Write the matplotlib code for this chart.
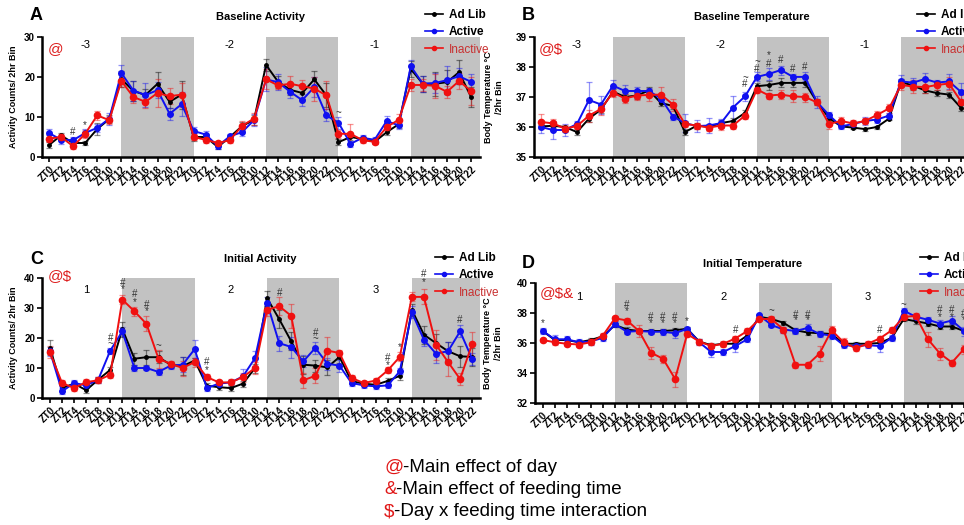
import matplotlib
matplotlib.use("Agg")
import matplotlib.pyplot as plt
from matplotlib.lines import Line2D
import numpy as np

plt.rcParams['font.family'] = ['Liberation Sans', 'DejaVu Sans']

zt_labels = ["ZT0", "ZT2", "ZT4", "ZT6", "ZT8", "ZT10",
             "ZT12", "ZT14", "ZT16", "ZT18", "ZT20", "ZT22"] * 3
idx = np.arange(36)

# ---- A: baseline activity ----
a_adlib = [3, 5.4, 3.5, 3.5, 7, 9.5, 19.5, 16.5, 15.5, 18.3, 13.8, 15.6,
           5, 5, 2.5, 5, 7.7, 9.3, 23, 18.8, 16.8, 16, 19.4, 15.4,
           3.7, 5, 4.5, 3.8, 6.2, 8.2, 22, 18.3, 18.3, 18.7, 21.2, 15]
a_active = [6, 4.3, 4.2, 6, 7.3, 9.6, 21, 16.6, 15.5, 16.7, 10.8, 13.2,
            6.5, 5.6, 2.7, 5.2, 6.2, 9.2, 19.4, 18.7, 16.3, 14.2, 17.5, 10.4,
            8.6, 3.3, 4.8, 4.3, 9, 7.9, 22.7, 18.3, 18.5, 19.2, 20.2, 18.8]
a_inactive = [4.6, 5, 2.7, 5.8, 10.4, 9.2, 19, 15, 13.8, 16, 15.2, 15.6,
              5, 4.3, 3.5, 4.2, 7.8, 9.6, 19.4, 17.9, 18.3, 17.7, 17.1, 15.4,
              5.8, 5.8, 4.2, 3.8, 7.5, 9.3, 18, 18, 17.8, 16.3, 19, 16.5]
a_adlib_err = [0.8, 0.7, 0.5, 0.5, 1.5, 1.0, 2.0, 2.5, 1.5, 3.0, 1.5, 3.5,
               1.0, 0.8, 0.5, 0.6, 1.0, 1.2, 1.5, 1.5, 1.2, 1.5, 2.0, 3.0,
               0.8, 0.8, 0.6, 0.6, 0.8, 1.0, 2.0, 2.0, 3.0, 3.0, 3.0, 2.5]
a_active_err = [1.0, 1.0, 0.8, 1.0, 1.0, 1.5, 2.0, 2.5, 3.0, 2.0, 1.5, 3.0,
                1.0, 1.0, 0.6, 0.6, 1.0, 1.5, 3.0, 2.0, 1.5, 1.5, 2.5, 1.5,
                1.5, 0.8, 0.8, 0.8, 1.2, 1.0, 1.5, 2.0, 2.5, 3.5, 2.0, 2.0]
a_inactive_err = [0.8, 0.8, 0.6, 1.0, 1.2, 1.0, 1.5, 1.5, 1.5, 3.5, 2.0, 3.0,
                  0.8, 0.8, 0.5, 0.6, 1.2, 1.5, 2.5, 1.0, 2.0, 1.5, 3.0, 3.5,
                  1.0, 2.5, 0.7, 0.6, 1.0, 1.5, 1.5, 1.5, 3.0, 1.5, 2.0, 3.5]

# ---- B: baseline temperature ----
b_adlib = [36.02, 36.04, 36.0, 35.83, 36.28, 36.58, 37.18, 37.0, 37.05, 37.22, 36.8, 36.7,
           35.83, 36.05, 36.0, 36.13, 36.2, 36.47, 37.36, 37.4, 37.47, 37.47, 37.47, 36.83,
           36.3, 36.02, 35.98, 35.93, 36.0, 36.28, 37.5, 37.38, 37.22, 37.13, 37.08, 36.64]
b_active = [36.0, 35.9, 35.9, 36.1, 36.9, 36.75, 37.38, 37.2, 37.2, 37.2, 36.95, 36.35,
            36.13, 36.03, 36.05, 36.13, 36.65, 37.02, 37.67, 37.77, 37.9, 37.67, 37.67, 36.83,
            36.4, 36.02, 36.1, 36.2, 36.25, 36.38, 37.52, 37.48, 37.6, 37.48, 37.52, 37.17]
b_inactive = [36.17, 36.12, 35.95, 36.03, 36.38, 36.6, 37.15, 36.95, 37.05, 37.07, 37.08, 36.75,
              36.1, 36.05, 35.98, 36.05, 36.05, 36.38, 37.25, 37.05, 37.08, 37.02, 37.0, 36.82,
              36.1, 36.2, 36.12, 36.2, 36.4, 36.62, 37.4, 37.35, 37.33, 37.4, 37.45, 36.85]
b_adlib_err = [0.05, 0.05, 0.05, 0.1, 0.1, 0.1, 0.1, 0.1, 0.1, 0.1, 0.1, 0.1,
               0.1, 0.1, 0.1, 0.1, 0.1, 0.1, 0.1, 0.15, 0.15, 0.15, 0.15, 0.1,
               0.1, 0.05, 0.05, 0.05, 0.05, 0.05, 0.1, 0.15, 0.1, 0.1, 0.1, 0.1]
b_active_err = [0.2, 0.3, 0.2, 0.1, 0.6, 0.3, 0.2, 0.2, 0.15, 0.1, 0.15, 0.1,
                0.3, 0.2, 0.25, 0.15, 0.4, 0.15, 0.15, 0.2, 0.15, 0.1, 0.15, 0.2,
                0.1, 0.1, 0.1, 0.15, 0.1, 0.1, 0.2, 0.15, 0.2, 0.1, 0.25, 0.3]
b_inactive_err = [0.25, 0.15, 0.1, 0.1, 0.2, 0.2, 0.15, 0.15, 0.15, 0.2, 0.25, 0.2,
                  0.1, 0.1, 0.1, 0.15, 0.1, 0.1, 0.1, 0.1, 0.15, 0.2, 0.15, 0.1,
                  0.15, 0.15, 0.1, 0.1, 0.15, 0.15, 0.15, 0.2, 0.2, 0.15, 0.2, 0.2]

# ---- C: initial activity ----
c_adlib = [16.7, 3.3, 4.8, 2.6, 6.1, 9.4, 23, 13.1, 13.6, 13.6, 11.1, 10.6,
           12.5, 4.1, 3.6, 3.3, 4.8, 10, 33.3, 26.3, 18.9, 11.1, 10.8, 10.2,
           13.7, 5.6, 4.8, 4.4, 5.7, 7.4, 29.4, 21.1, 18.3, 15.6, 13.9, 13.7]
c_active = [15.6, 2.2, 5, 4.2, 6.1, 15.8, 22.2, 10, 10, 8.7, 10.8, 11.1,
            16.3, 3.3, 4.8, 5.2, 7.2, 13.3, 31.7, 18.3, 17, 12.2, 16.7, 11.4,
            10.8, 5, 4.2, 3.9, 4.2, 8.9, 28.6, 19.4, 14.8, 15.6, 22.2, 13]
c_inactive = [15.2, 5, 3.3, 5.3, 5.9, 7.8, 32.8, 28.9, 24.7, 13.1, 11.4, 10,
              12, 7, 5.2, 5.2, 7, 10, 29.4, 30.6, 27.4, 5.9, 7.4, 15.8,
              15, 6.7, 5, 5.8, 9.2, 13.7, 33.7, 33.7, 17.8, 12, 6.3, 18]
c_adlib_err = [2.5, 1, 1, 0.8, 1, 1, 2.5, 2, 2.5, 2, 1, 3,
               1, 0.8, 0.8, 0.8, 1, 1.5, 2.5, 3, 3, 3, 2, 2.5,
               2, 1, 0.8, 0.8, 1, 1.5, 2, 3, 3, 3, 3.5, 3]
c_active_err = [1.5, 1, 1, 1, 1, 1, 1.5, 1, 0.8, 1, 1, 2.5,
                3, 0.8, 0.8, 0.8, 2.5, 2.5, 2, 2.5, 3.5, 2, 2, 2,
                2, 1, 0.8, 1, 1, 1, 2, 2, 3, 3, 2, 2]
c_inactive_err = [2, 1, 1, 1, 1, 1, 1.5, 1.5, 2.5, 3, 1, 2.5,
                  1.5, 1, 0.8, 1, 1.5, 2, 2, 3, 4, 2.5, 2.5, 4.5,
                  1, 1, 0.8, 0.8, 1, 1.5, 1.5, 2.5, 5, 4.5, 2, 4]

# ---- D: initial temperature ----
d_adlib = [36.8, 36.2, 36.2, 36.05, 36.2, 36.45, 37.2, 36.9, 36.8, 36.8, 36.8, 36.85,
           36.95, 36.1, 35.85, 35.95, 35.95, 36.5, 37.75, 37.6, 37.35, 36.85, 36.7, 36.65,
           36.6, 35.95, 35.95, 35.95, 36.0, 36.35, 37.6, 37.45, 37.3, 37.1, 37.1, 36.8]
d_active = [36.8, 36.25, 36.25, 36.05, 36.1, 36.35, 37.25, 36.75, 36.8, 36.75, 36.75, 36.65,
            36.95, 36.05, 35.4, 35.4, 35.8, 36.25, 37.85, 37.2, 36.9, 36.8, 37.0, 36.6,
            36.5, 35.85, 35.8, 35.85, 35.8, 36.35, 38.15, 37.75, 37.55, 37.3, 37.5, 36.8]
d_inactive = [36.2, 36.05, 35.95, 35.9, 36.05, 36.5, 37.65, 37.5, 36.8, 35.35, 34.95, 33.6,
              36.6, 36.1, 35.8, 35.95, 36.3, 36.8, 37.6, 37.6, 36.9, 34.55, 34.55, 35.3,
              36.85, 36.05, 35.65, 35.95, 36.3, 36.85, 37.75, 37.8, 36.25, 35.3, 34.7, 35.6]
d_adlib_err = [0.15] * 36
d_active_err = [0.2, 0.3, 0.2, 0.2, 0.2, 0.2, 0.2, 0.15, 0.15, 0.15, 0.2, 0.3,
                0.15, 0.2, 0.3, 0.2, 0.4, 0.2, 0.1, 0.15, 0.2, 0.2, 0.25, 0.2,
                0.2, 0.2, 0.2, 0.2, 0.4, 0.2, 0.2, 0.2, 0.2, 0.25, 0.3, 0.3]
d_inactive_err = [0.15, 0.15, 0.15, 0.15, 0.15, 0.15, 0.15, 0.2, 0.4, 0.4, 0.25, 0.5,
                  0.2, 0.2, 0.15, 0.2, 0.2, 0.2, 0.15, 0.2, 0.2, 0.2, 0.2, 0.5,
                  0.3, 0.3, 0.2, 0.2, 0.2, 0.2, 0.2, 0.2, 0.5, 0.4, 0.2, 0.3]

# significance marks: (index, y, symbol)
a_marks = [(2, 6.3, "#"), (3, 7.9, "*"), (24, 11, "~")]
b_marks = [(17, 37.44, "#"), (17, 37.64, "~"), (18, 37.94, "#"), (18, 38.17, "~"),
           (19, 38.1, "#"), (19, 38.39, "*"), (20, 38.24, "#"), (21, 37.94, "#"),
           (22, 38.0, "#")]
c_marks = [(5, 20, "#"), (5, 17.8, "~"), (6, 38.3, "#"), (6, 36.3, "*"),
           (7, 34.8, "#"), (7, 31.9, "*"), (8, 31.1, "#"), (8, 28.9, "*"),
           (9, 17.2, "~"), (13, 11.9, "#"), (13, 9.4, "*"), (19, 35, "#"),
           (22, 21.7, "#"), (22, 19.7, "~"), (28, 13.3, "#"), (28, 11.1, "*"),
           (29, 17, "*"), (31, 41.4, "#"), (31, 38.6, "*"), (34, 26.1, "#")]
d_marks = [(0, 37.33, "*"), (7, 38.55, "#"), (7, 38.15, "*"),
           (9, 37.73, "#"), (9, 37.33, "*"), (10, 37.73, "#"), (10, 37.33, "*"),
           (11, 37.73, "#"), (11, 37.33, "*"), (12, 37.44, "*"), (16, 36.89, "#"),
           (19, 38.15, "~"), (21, 37.9, "#"), (21, 37.5, "*"), (22, 37.9, "#"),
           (22, 37.5, "*"), (28, 36.89, "#"), (30, 38.5, "~"),
           (33, 38.18, "#"), (33, 37.73, "*"), (34, 38.18, "#"), (34, 37.73, "*"),
           (35, 37.96, "#"), (35, 37.55, "*")]

colors = ["black", "#1010f0", "#f01010"]
W, H = 964, 525
fig = plt.figure(figsize=(W / 100, H / 100), dpi=100)


def px_axes(left, top, right, bottom):
    return fig.add_axes([left / W, 1 - bottom / H, (right - left) / W, (bottom - top) / H])


def draw_panel(ax, series, errs, names, ylim, yticks, xlim, marks, days, day_y,
               ylabel, tag, tag_y, leg_xy):
    for s, e, col, ms in zip(series, errs, colors, [2.5, 4, 4.5]):
        eb = ax.errorbar(idx, s, yerr=e, fmt='-o', color=col, ms=ms, lw=1.4,
                         ecolor=col, elinewidth=0.9, capsize=2, capthick=0.9, zorder=3)
        for art in list(eb[1]) + list(eb[2]):
            art.set_alpha(0.45)
    for st in (6, 18, 30):
        ax.axvspan(st, st + 6, color="#c2c2c2", lw=0, zorder=0)
    ax.set_xlim(*xlim)
    ax.set_ylim(*ylim)
    ax.set_yticks(yticks)
    ax.set_xticks(idx)
    ax.set_xticklabels(zt_labels, rotation=45, ha='right', rotation_mode='anchor',
                       fontsize=7, fontweight='bold')
    for lab in ax.get_yticklabels():
        lab.set_fontweight('bold')
        lab.set_fontsize(7)
    ax.spines['top'].set_visible(False)
    ax.spines['right'].set_visible(False)
    ax.spines['left'].set_linewidth(1.8)
    ax.spines['bottom'].set_linewidth(1.8)
    ax.tick_params(width=1.2, length=3.5, pad=1.5)
    ax.set_ylabel(ylabel, fontsize=6.5, fontweight='bold', linespacing=1.3)
    for i, y, m in marks:
        ax.text(i, y, m, ha='center', va='center', fontsize=7, color="#333333",
                clip_on=False, zorder=4)
    for x, d in zip((3, 15, 27), days):
        ax.text(x, day_y, d, transform=ax.get_xaxis_transform(), ha='center',
                va='center', fontsize=8)
    ax.text(0.012, tag_y, tag, transform=ax.transAxes, ha='left', va='center',
            fontsize=11, color="#dd1c1c")
    handles = [Line2D([], [], color=c, marker='o', ms=m, lw=1.2)
               for c, m in zip(colors, [2.5, 3, 3])]
    leg = ax.legend(handles, names, loc='upper left', bbox_to_anchor=leg_xy,
                    bbox_transform=fig.transFigure, frameon=False, fontsize=8.5,
                    handlelength=1.5, handletextpad=0.5, labelspacing=0.45,
                    borderpad=0, borderaxespad=0)
    txts = leg.get_texts()
    txts[0].set_fontweight('bold')
    txts[1].set_fontweight('bold')
    txts[2].set_color("#c83030")
    return ax


axA = px_axes(42, 37, 480, 157)
draw_panel(axA, [a_adlib, a_active, a_inactive], [a_adlib_err, a_active_err, a_inactive_err],
           ["Ad Lib", "Active", "Inactive"], (0, 30), [0, 10, 20, 30], (-0.58, 35.74),
           a_marks, ["-3", "-2", "-1"], 0.93, "Activity Counts/ 2hr Bin", "@", 0.9,
           (425 / W, 1 - 9 / H))

axB = px_axes(534, 37, 964, 157)
draw_panel(axB, [b_adlib, b_active, b_inactive], [b_adlib_err, b_active_err, b_inactive_err],
           ["Ad lib", "Active", "Inactive"], (35, 39), [35, 36, 37, 38, 39], (-0.58, 35.25),
           b_marks, ["-3", "-2", "-1"], 0.93, "Body Temperature \u00b0C\n/2hr Bin", "@$", 0.9,
           (917 / W, 1 - 9 / H))

axC = px_axes(42, 278, 480, 398)
draw_panel(axC, [c_adlib, c_active, c_inactive], [c_adlib_err, c_active_err, c_inactive_err],
           ["Ad Lib", "Active", "Inactive"], (0, 40), [0, 10, 20, 30, 40], (-0.66, 35.65),
           c_marks, ["1", "2", "3"], 0.9, "Activity Counts/ 2hr Bin", "@$", 1.02,
           (435 / W, 1 - 252 / H))

axD = px_axes(535, 283, 964, 403)
draw_panel(axD, [d_adlib, d_active, d_inactive], [d_adlib_err, d_active_err, d_inactive_err],
           ["Ad Lib", "Active", "Inactive"], (32, 40), [32, 34, 36, 38, 40], (-0.64, 35.0),
           d_marks, ["1", "2", "3"], 0.88, "Body Temperature \u00b0C\n/2hr Bin", "@$&", 0.92,
           (920 / W, 1 - 252 / H))

for ax, lx in ((axA, -0.055), (axC, -0.055), (axB, -0.07), (axD, -0.075)):
    ax.yaxis.set_label_coords(lx, 0.5)

# titles and panel letters
for txt, x, y in (("Baseline Activity", 260, 17), ("Baseline Temperature", 752, 17),
                  ("Initial Activity", 260, 259), ("Initial Temperature", 753, 264)):
    fig.text(x / W, 1 - y / H, txt, ha='center', va='center', fontsize=8, fontweight='bold')
for txt, x, y in (("A", 30, 15), ("B", 522, 15), ("C", 30, 260), ("D", 522, 264)):
    fig.text(x / W, 1 - y / H, txt, ha='left', va='center', fontsize=13, fontweight='bold')

# key for the red symbols
key = [("@", "-Main effect of day"), ("&", "-Main effect of feeding time"),
       ("$", "-Day x feeding time interaction")]
for k, (sym, desc) in enumerate(key):
    y = 1 - (467 + 22.5 * k) / H
    t = fig.text(384 / W, y, sym, ha='left', va='center', fontsize=13.5, color="#e01818")
    fig.add_artist(matplotlib.text.Annotation(desc, xy=(1, 0.5), xycoords=t,
                                              ha='left', va='center', fontsize=13.5))

fig.savefig("out.png", dpi=100)
